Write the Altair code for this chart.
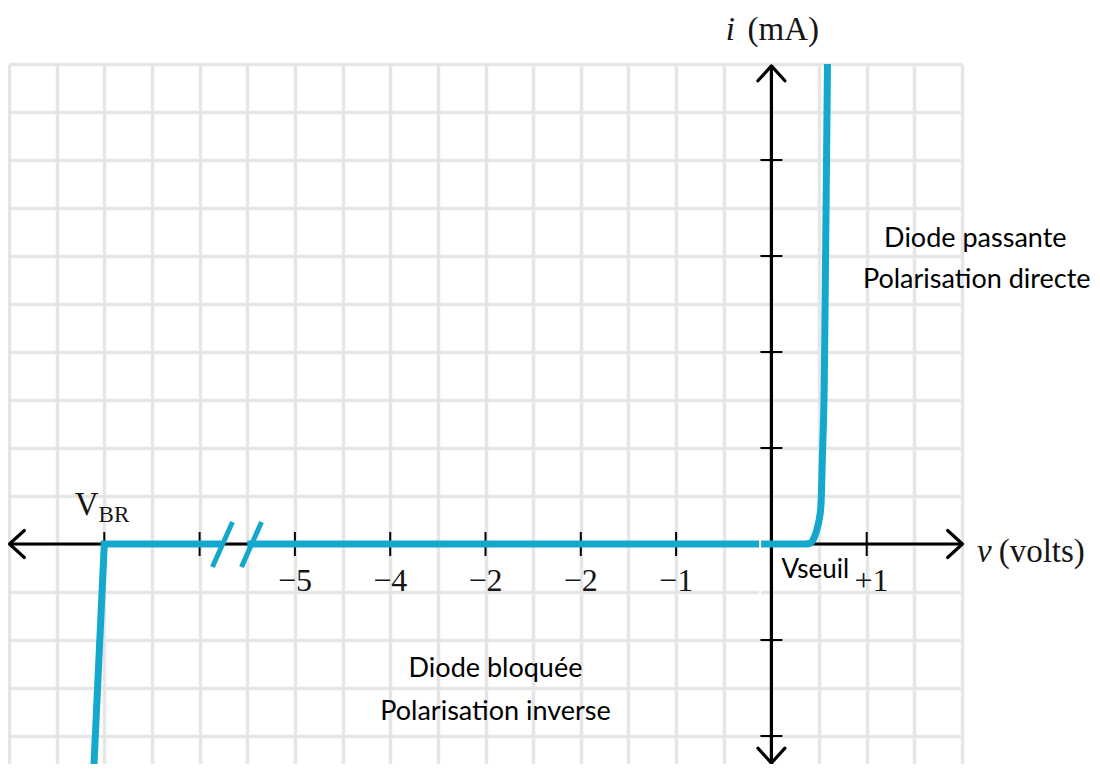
import altair as alt
import pandas as pd

# ---- data (grid units: 1 unit = one grid square; origin at the axes crossing) ----
rev_v = [-14.23, -14.0, -11.55]
rev_i = [-4.875, 0.0, 0.0]
fwd_v = [-11.0, 0.70, 0.80, 0.86, 0.91, 0.97, 1.01, 1.04, 1.07, 1.11, 1.14, 1.18]
fwd_i = [0.0, 0.0, 0.01, 0.06, 0.16, 0.36, 0.55, 0.80, 1.80, 3.40, 6.30, 10.3]

x_tick_pos = [-14, -12, -10, -8, -6, -4, -2, 2]
x_label_pos = [-10, -8, -6, -4, -2, 2.1]
x_tick_labels = ["−5", "−4", "−2", "−2", "−1", "+1"]
y_tick_pos = [-4, -2, 2, 4, 6, 8]

grid_x = list(range(-16, 5))
grid_y = list(range(-4, 11))

break_x1 = [-11.73, -11.12]
break_y1 = [-0.48, -0.48]
break_x2 = [-11.31, -10.70]
break_y2 = [0.46, 0.46]

W, H = 953, 700
YMAX = 10.0
YMIN = YMAX - H / 48.0

BLUE = "#14a8cc"
INK = "#161616"

xscale = alt.Scale(domain=[-16, 4], nice=False, zero=False)
yscale = alt.Scale(domain=[YMIN, YMAX], nice=False, zero=False)
xaxis = alt.Axis(values=grid_x, grid=True, gridColor="#e6e6e6", gridWidth=3.5,
                 labels=False, ticks=False, domain=False, title=None)
yaxis = alt.Axis(values=grid_y, grid=True, gridColor="#e6e6e6", gridWidth=3.5,
                 labels=False, ticks=False, domain=False, title=None)


def X(f):
    return alt.X(f, type="quantitative", scale=xscale, axis=xaxis)


def Y(f):
    return alt.Y(f, type="quantitative", scale=yscale, axis=yaxis)


# axis lines
axes_df = pd.DataFrame({"x": [-15.95, 0.0], "y": [0.0, YMIN],
                        "x2": [3.98, 0.0], "y2": [0.0, 9.94]})
axes_lines = alt.Chart(axes_df).mark_rule(color="black", strokeWidth=3.2).encode(
    x=X("x"), y=Y("y"), x2="x2", y2="y2")

xt_df = pd.DataFrame({"x": x_tick_pos, "y": [0.0] * len(x_tick_pos)})
x_ticks = alt.Chart(xt_df).mark_tick(orient="vertical", size=24, thickness=2,
                                     color="black", opacity=1).encode(x=X("x"), y=Y("y"))
yt_df = pd.DataFrame({"x": [0.0] * len(y_tick_pos), "y": y_tick_pos})
y_ticks = alt.Chart(yt_df).mark_tick(orient="horizontal", size=22, thickness=2,
                                     color="black", opacity=1).encode(x=X("x"), y=Y("y"))

rev_df = pd.DataFrame({"x": rev_v, "y": rev_i, "o": range(len(rev_v))})
rev_line = alt.Chart(rev_df).mark_line(color=BLUE, strokeWidth=7, strokeJoin="miter",
                                       clip=True).encode(x=X("x"), y=Y("y"), order="o:Q")
fwd_df = pd.DataFrame({"x": fwd_v, "y": fwd_i, "o": range(len(fwd_v))})
fwd_line = alt.Chart(fwd_df).mark_line(color=BLUE, strokeWidth=7, interpolate="monotone",
                                       clip=True).encode(x=X("x"), y=Y("y"), order="o:Q")

brk_df = pd.DataFrame({"x": break_x1, "y": break_y1, "x2": break_x2, "y2": break_y2})
breaks = alt.Chart(brk_df).mark_rule(color=BLUE, strokeWidth=5).encode(
    x=X("x"), y=Y("y"), x2="x2", y2="y2")

gap_df = pd.DataFrame({"x": [-0.237], "y": [0.17], "y2": [-1.15]})
gap = alt.Chart(gap_df).mark_rule(color="white", strokeWidth=2).encode(
    x=X("x"), y=Y("y"), y2="y2")

arr_df = pd.DataFrame({"x": [-15.99, 4.01, 0.0, 0.0],
                       "y": [0.0, 0.0, 9.96, YMIN + 0.02],
                       "a": [180, 0, 270, 90]})
arrows = alt.Chart(arr_df).mark_point(shape="M-1.1,-1L0,0L-1.1,1", filled=False,
                                      strokeWidth=3.2, color="black", size=729, opacity=1,
                                      strokeCap="round", strokeJoin="round").encode(
    x=X("x"), y=Y("y"), angle=alt.Angle("a:Q", scale=None))

# tick labels
lab_df = pd.DataFrame({"x": x_label_pos, "y": [-0.98] * len(x_label_pos), "t": x_tick_labels})
tick_labels = alt.Chart(lab_df).mark_text(font="Liberation Serif", fontSize=32, color=INK,
                                          baseline="alphabetic", align="center").encode(
    x=X("x"), y=Y("y"), text="t:N")


def txt(rows, **kw):
    df = pd.DataFrame(rows, columns=["x", "y", "t"])
    base = dict(baseline="alphabetic", color=INK)
    base.update(kw)
    return alt.Chart(df).mark_text(**base).encode(x=X("x"), y=Y("y"), text="t:N")


serif_it = txt([[-0.86, 10.50, "i"], [4.47, -0.375, "v"]],
               font="Liberation Serif", fontSize=33, fontStyle="italic", align="center")
serif_l = txt([[-0.50, 10.50, "(mA)"], [4.77, -0.375, "(volts)"]],
              font="Liberation Serif", fontSize=33, align="left")
vbr_v = txt([[-14.37, 0.60, "V"]], font="Liberation Serif", fontSize=33, align="center")
vbr_s = txt([[-14.12, 0.46, "BR"]], font="Liberation Serif", fontSize=23, align="left")

sans_c = txt([[4.28, 6.19, "Diode passante"],
              [4.31, 5.33, "Polarisation directe"],
              [-5.79, -2.77, "Diode bloquée"],
              [-5.79, -3.67, "Polarisation inverse"]],
             font="Lato", fontSize=27, align="center", color="black")
sans_l = txt([[0.21, -0.71, "Vseuil"]], font="Lato", fontSize=26, align="left", color="black")

chart = alt.layer(
    axes_lines, x_ticks, y_ticks, rev_line, fwd_line, breaks, gap, arrows,
    tick_labels, serif_it, serif_l, vbr_v, vbr_s, sans_c, sans_l
).properties(
    width=W, height=H,
    autosize=alt.AutoSizeParams(type="none"),
    padding={"left": 1, "top": 56, "right": 130, "bottom": 0},
).configure_view(stroke=None)

chart.save("out.html", embed_options={"renderer": "svg", "actions": False})
